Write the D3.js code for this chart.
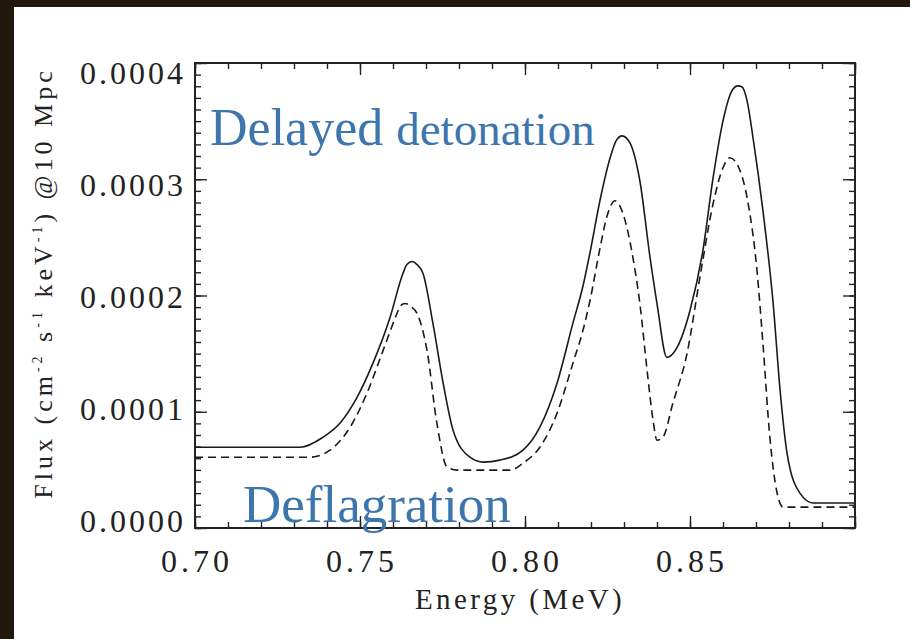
<!DOCTYPE html>
<html><head><meta charset="utf-8">
<script src="https://cdn.jsdelivr.net/npm/d3@7"></script>
<style>
html,body{margin:0;padding:0;background:#fff;}
svg{display:block;}
</style></head>
<body>
<script>
// ---- data ----
const detEnergy = [0.700,0.7167,0.7318,0.7388,0.7439,0.7491,0.7539,0.7591,0.7630,0.7642,0.7658,0.7673,0.7691,0.7721,0.7752,0.7782,0.7833,0.7873,0.7924,0.7994,0.8045,0.8097,0.8145,0.8176,0.8197,0.8227,0.8258,0.8276,0.8294,0.8318,0.8348,0.8379,0.8400,0.8430,0.8461,0.8500,0.8539,0.8570,0.8600,0.8627,0.8645,0.8658,0.8673,0.8691,0.8721,0.8752,0.8773,0.8794,0.8833,0.8873,0.9000];
const detFlux = [6.95e-5,6.95e-5,6.95e-5,7.81e-5,9.01e-5,1.124e-4,1.416e-4,1.811e-4,2.189e-4,2.266e-4,2.292e-4,2.266e-4,2.189e-4,1.760e-4,1.245e-4,8.41e-5,6.09e-5,5.67e-5,5.84e-5,6.70e-5,8.67e-5,1.245e-4,1.760e-4,2.086e-4,2.369e-4,2.815e-4,3.185e-4,3.330e-4,3.373e-4,3.313e-4,2.987e-4,2.326e-4,1.931e-4,1.468e-4,1.554e-4,1.871e-4,2.386e-4,3.013e-4,3.502e-4,3.760e-4,3.803e-4,3.794e-4,3.674e-4,3.356e-4,2.730e-4,1.931e-4,1.185e-4,6.44e-5,3.00e-5,2.15e-5,2.15e-5];
const defEnergy = [0.700,0.7167,0.7348,0.7409,0.7470,0.7521,0.7570,0.7612,0.7621,0.7636,0.7655,0.7673,0.7703,0.7733,0.7764,0.7794,0.7955,0.7994,0.8045,0.8097,0.8145,0.8176,0.8197,0.8227,0.8248,0.8273,0.8297,0.8327,0.8348,0.8370,0.8388,0.8400,0.8418,0.8448,0.8491,0.8530,0.8570,0.8600,0.8621,0.8642,0.8673,0.8703,0.8721,0.8742,0.8764,0.8782,0.9000];
const defFlux = [6.09e-5,6.09e-5,6.09e-5,6.70e-5,8.67e-5,1.159e-4,1.528e-4,1.845e-4,1.905e-4,1.931e-4,1.905e-4,1.845e-4,1.528e-4,9.01e-5,5.24e-5,4.98e-5,4.98e-5,5.58e-5,6.95e-5,9.87e-5,1.416e-4,1.704e-4,1.957e-4,2.403e-4,2.678e-4,2.815e-4,2.704e-4,2.326e-4,1.931e-4,1.356e-4,9.27e-5,7.55e-5,7.81e-5,1.073e-4,1.502e-4,2.155e-4,2.790e-4,3.099e-4,3.185e-4,3.133e-4,2.841e-4,2.215e-4,1.588e-4,7.81e-5,3.00e-5,1.80e-5,1.80e-5];
const xMajor = [0.70,0.75,0.80,0.85,0.90];
const xLabels = ["0.70","0.75","0.80","0.85"];
const yMajor = [0,0.0001,0.0002,0.0003,0.0004];
const yLabels = ["0.0000","0.0001","0.0002","0.0003","0.0004"];
const xMinor = d3.range(0,21).map(i=>0.70+i*0.01);
const yMinor = d3.range(0,41).map(i=>i*0.00001);

const W=910,H=639;
const L=195,R=855,T=63,B=528;
const FONT="'Liberation Serif','Times New Roman','DejaVu Serif',serif";
const svg=d3.select("body").append("svg").attr("width",W).attr("height",H)
  .attr("font-family",FONT);
svg.append("rect").attr("width",W).attr("height",H).attr("fill","#fff");
// dark border
svg.append("rect").attr("x",0).attr("y",0).attr("width",W).attr("height",7).attr("fill","#21170a");
svg.append("rect").attr("x",0).attr("y",0).attr("width",14).attr("height",H).attr("fill","#21170a");

const x=d3.scaleLinear().domain([0.70,0.90]).range([L,R]);
const y=d3.scaleLinear().domain([0,0.0004]).range([B,T]);
const yLab=d3.scaleLinear().domain([0,0.0004]).range([521,73]);

const ink="#222";
function styleAxis(g){
  g.attr("font-family",null);
  g.select(".domain").remove();
  g.selectAll(".tick line").attr("stroke",ink).attr("stroke-width",1.4);
  g.selectAll(".tick text").remove();
}
// minor & major ticks on all four sides (pointing inward)
svg.append("g").attr("transform",`translate(0,${B})`).call(d3.axisBottom(x).tickValues(xMinor).tickSize(-6)).call(styleAxis);
svg.append("g").attr("transform",`translate(0,${B})`).call(d3.axisBottom(x).tickValues(xMajor).tickSize(-12)).call(styleAxis);
svg.append("g").attr("transform",`translate(0,${T})`).call(d3.axisTop(x).tickValues(xMinor).tickSize(-6)).call(styleAxis);
svg.append("g").attr("transform",`translate(0,${T})`).call(d3.axisTop(x).tickValues(xMajor).tickSize(-12)).call(styleAxis);
svg.append("g").attr("transform",`translate(${L},0)`).call(d3.axisLeft(y).tickValues(yMinor).tickSize(-6)).call(styleAxis);
svg.append("g").attr("transform",`translate(${L},0)`).call(d3.axisLeft(y).tickValues(yMajor).tickSize(-12)).call(styleAxis);
svg.append("g").attr("transform",`translate(${R},0)`).call(d3.axisRight(y).tickValues(yMinor).tickSize(-6)).call(styleAxis);
svg.append("g").attr("transform",`translate(${R},0)`).call(d3.axisRight(y).tickValues(yMajor).tickSize(-12)).call(styleAxis);

// frame
svg.append("rect").attr("x",L).attr("y",T).attr("width",R-L).attr("height",B-T)
  .attr("fill","none").attr("stroke",ink).attr("stroke-width",2);

// tick labels
svg.append("g").selectAll("text").data(xLabels).join("text")
  .attr("font-family",FONT)
  .attr("x",(d)=>x(+d)+2).attr("y",572).attr("text-anchor","middle")
  .attr("font-size",32).attr("letter-spacing",4).attr("fill",ink).text(d=>d);
svg.append("g").selectAll("text").data(yLabels).join("text")
  .attr("font-family",FONT)
  .attr("x",186).attr("y",d=>yLab(+d)+11).attr("text-anchor","end")
  .attr("font-size",32).attr("letter-spacing",3).attr("fill",ink).text(d=>d);

// axis titles
svg.append("text").attr("font-family",FONT).attr("x",520).attr("y",609).attr("text-anchor","middle")
  .attr("font-size",29).attr("letter-spacing",3.4).attr("fill",ink).text("Energy (MeV)");
const yt=svg.append("text").attr("font-family",FONT).attr("transform","translate(52,283) rotate(-90)").attr("text-anchor","middle")
  .attr("font-size",26).attr("letter-spacing",4).attr("fill",ink);
yt.append("tspan").text("Flux (cm");
yt.append("tspan").attr("dy",-10).attr("font-size",14).text("-2");
yt.append("tspan").attr("dy",10).text(" s");
yt.append("tspan").attr("dy",-10).attr("font-size",14).text("-1");
yt.append("tspan").attr("dy",10).text(" keV");
yt.append("tspan").attr("dy",-10).attr("font-size",14).text("-1");
yt.append("tspan").attr("dy",10).text(") @10 Mpc");

// curves
const line=d3.line().x(d=>x(d[0])).y(d=>y(d[1])).curve(d3.curveMonotoneX);
svg.append("path").datum(d3.zip(detEnergy,detFlux)).attr("d",line)
  .attr("fill","none").attr("stroke","#1a1a1a").attr("stroke-width",1.6);
svg.append("path").datum(d3.zip(defEnergy,defFlux)).attr("d",line)
  .attr("fill","none").attr("stroke","#1a1a1a").attr("stroke-width",1.6).attr("stroke-dasharray","8,5");

// annotations
const blue="#3d76ad";
const t1=svg.append("text").attr("font-family",FONT).attr("x",210).attr("y",145).attr("fill",blue);
t1.append("tspan").attr("font-size",52).text("Delayed ");
t1.append("tspan").attr("font-size",47).text("detonation");
svg.append("text").attr("font-family",FONT).attr("x",243).attr("y",522).attr("fill",blue).attr("font-size",53).text("Deflagration");
</script>
</body></html>
